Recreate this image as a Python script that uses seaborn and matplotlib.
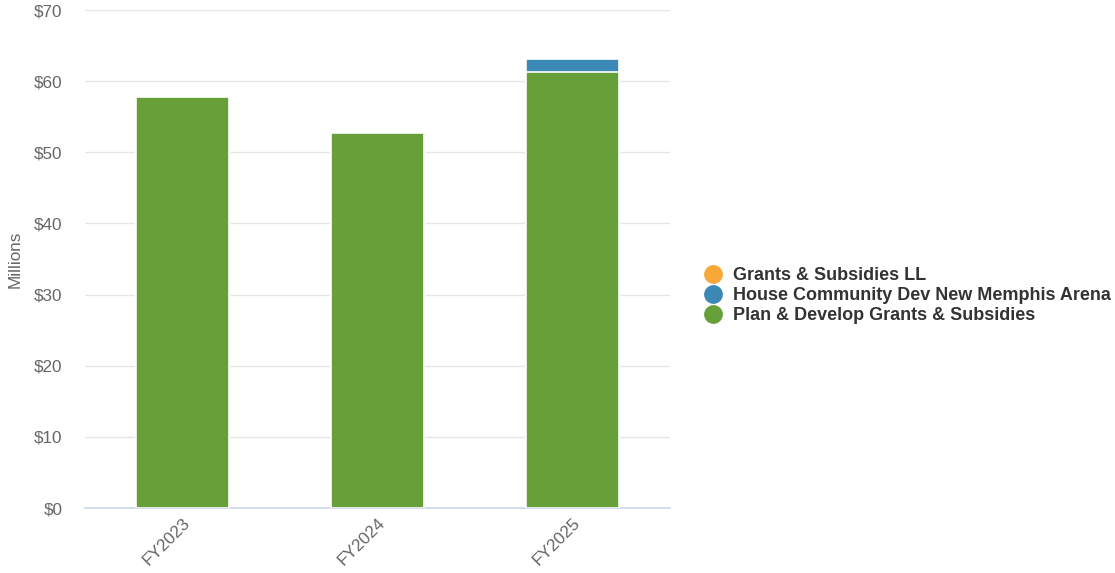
import matplotlib
matplotlib.use("Agg")
import matplotlib.pyplot as plt
from matplotlib.lines import Line2D
import numpy as np
import pandas as pd
import seaborn as sns

years = ["FY2023", "FY2024", "FY2025"]
plan_develop = [57.8, 52.7, 61.3]
house_arena = [0.0, 0.0, 1.8]
grants_ll = [0.0, 0.0, 0.0]

series_names = ["Grants & Subsidies LL",
                "House Community Dev New Memphis Arena",
                "Plan & Develop Grants & Subsidies"]
colors = ["#f7a839", "#3c88b7", "#679f39"]
y_ticks = [0, 10, 20, 30, 40, 50, 60, 70]

sns.set_style("white")
plt.rcParams["font.family"] = ["Liberation Sans", "DejaVu Sans"]

df = pd.DataFrame({"year": years,
                   "plan": plan_develop,
                   "arena": house_arena,
                   "ll": grants_ll})
# cumulative heights so each layer can be drawn over the one above it
df["top_arena"] = df["plan"] + df["arena"]
df["top_ll"] = df["top_arena"] + df["ll"]

fig = plt.figure(figsize=(11.15, 5.73), dpi=100)
ax = fig.add_axes([0.0762, 0.1134, 0.5247, 0.8691])

for col, c in [("top_ll", colors[0]), ("top_arena", colors[1]), ("plan", colors[2])]:
    sns.barplot(data=df, x="year", y=col, color=c, width=0.48,
                edgecolor="white", linewidth=1.2, saturation=1, ax=ax, zorder=3)

ax.set_xlim(-0.5, 2.5)
ax.set_ylim(0, 70)
ax.set_yticks(y_ticks)
ax.set_yticklabels([f"${v}" for v in y_ticks])
ax.grid(axis="y", color="#e6e6e6", linewidth=1, zorder=0)
ax.set_axisbelow(True)
for s in ["top", "right", "left"]:
    ax.spines[s].set_visible(False)
ax.spines["bottom"].set_color("#ccd6eb")
ax.spines["bottom"].set_linewidth(1.2)
ax.tick_params(axis="y", length=0, labelsize=12.3, colors="#666666", pad=16)
ax.tick_params(axis="x", length=0, labelsize=12.3, colors="#666666", pad=5)
plt.setp(ax.get_xticklabels(), rotation=45, ha="right", rotation_mode="anchor")
ax.set_xlabel("")
ax.set_ylabel("Millions", fontsize=12.3, color="#666666", labelpad=8.5)

handles = [Line2D([], [], marker="o", linestyle="", markersize=12.5,
                  markerfacecolor=c, markeredgecolor=c) for c in colors]
leg = fig.legend(handles, series_names, loc="center left",
                 bbox_to_anchor=(0.618, 0.484), frameon=False,
                 handlelength=0.8, handletextpad=0.75, labelspacing=0.18,
                 prop={"weight": "bold", "size": 13})
for t in leg.get_texts():
    t.set_color("#333333")

fig.savefig("out.png", dpi=100)
